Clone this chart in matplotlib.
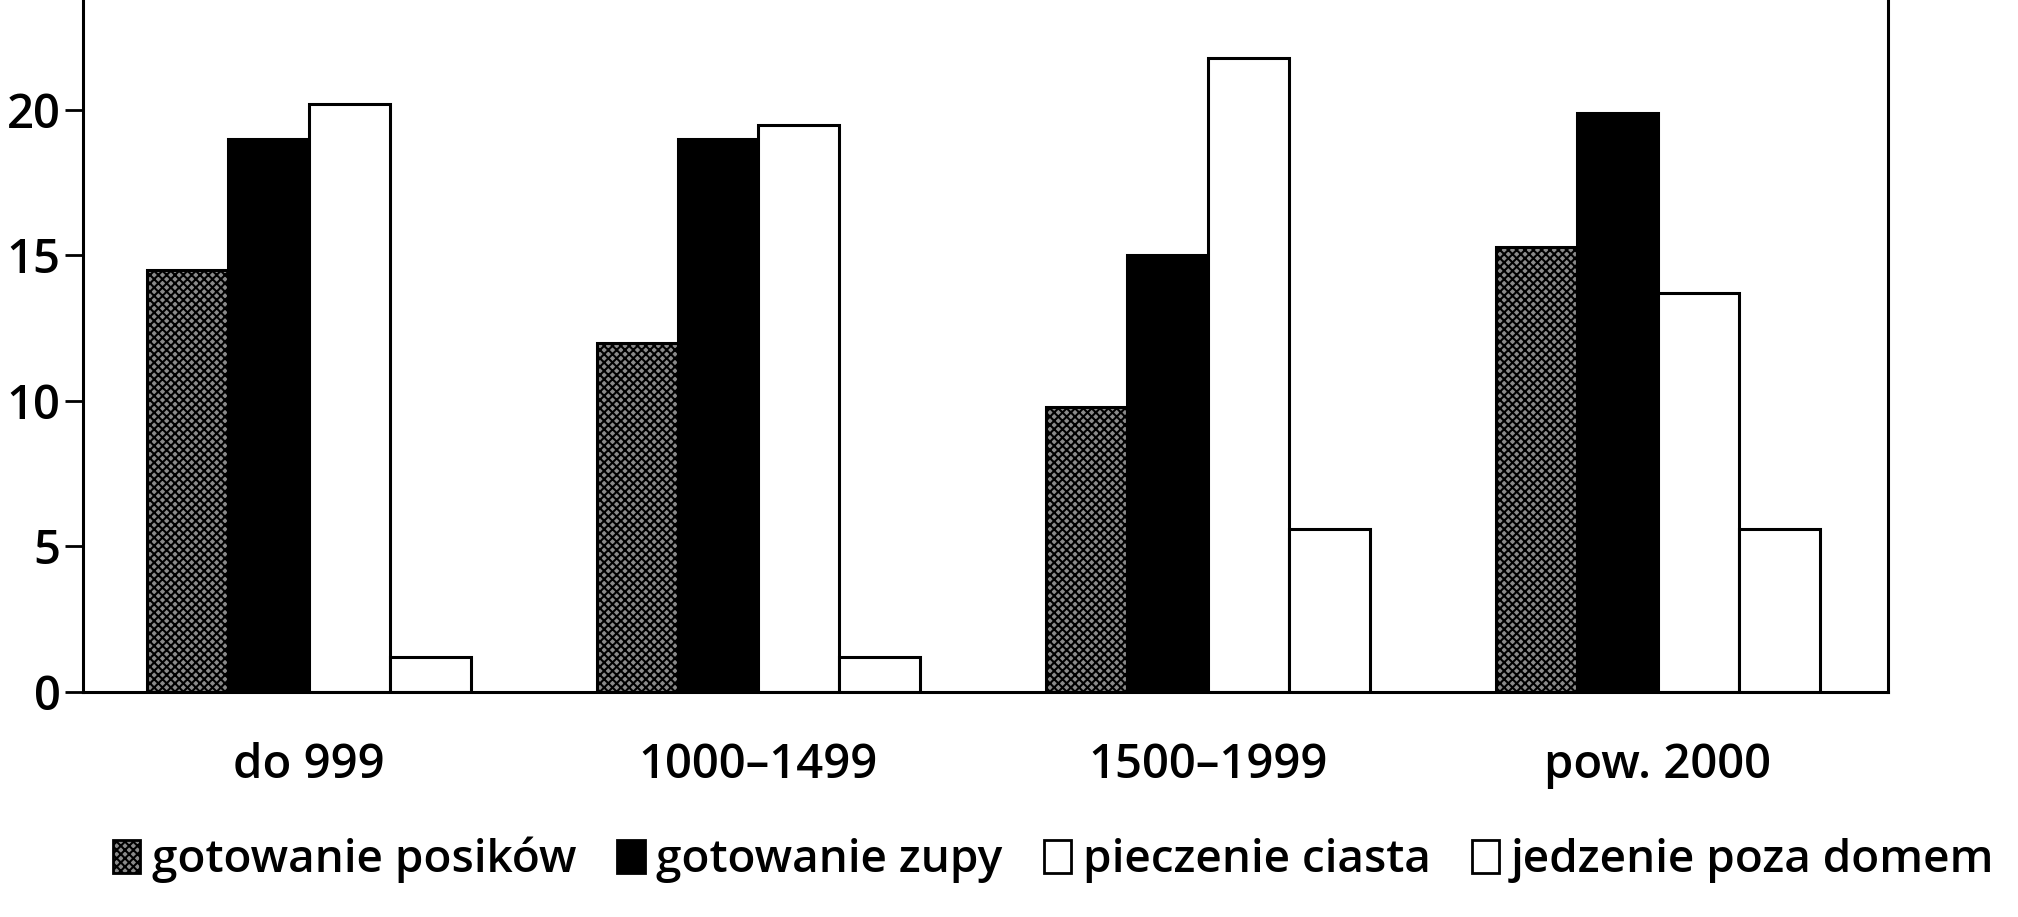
import matplotlib
matplotlib.use("Agg")
import matplotlib.pyplot as plt
import numpy as np
from matplotlib.patches import Patch

categories = ["do 999", "1000\u20131499", "1500\u20131999", "pow. 2000"]
series_names = ["gotowanie posików", "gotowanie zupy", "pieczenie ciasta", "jedzenie poza domem"]
gotowanie_posilkow = [14.5, 12.0, 9.8, 15.3]
gotowanie_zupy = [19.0, 19.0, 15.0, 19.9]
pieczenie_ciasta = [20.2, 19.5, 21.8, 13.7]
jedzenie_poza_domem = [1.2, 1.2, 5.6, 5.6]
yticks = [0, 5, 10, 15, 20]

plt.rcParams['font.family'] = ['Open Sans', 'DejaVu Sans']
plt.rcParams['hatch.linewidth'] = 1.5
plt.rcParams['hatch.color'] = 'black'

fig = plt.figure(figsize=(20.18, 9.17), dpi=100)
ax = fig.add_axes([0.041, 0.2454, 0.8945, 0.7546])

x = np.arange(len(categories))
w = 0.18
styles = [
    dict(facecolor='#8a8a8a', edgecolor='black', hatch='xxxx'),
    dict(facecolor='black', edgecolor='black'),
    dict(facecolor='white', edgecolor='black'),
    dict(facecolor='white', edgecolor='black'),
]
data = [gotowanie_posilkow, gotowanie_zupy, pieczenie_ciasta, jedzenie_poza_domem]
for i, (vals, st) in enumerate(zip(data, styles)):
    ax.bar(x + (i - 1.5) * w, vals, width=w, linewidth=2.2, **st)

ax.set_xlim(-0.503, 3.512)
ax.set_ylim(0, 23.78)
ax.set_yticks(yticks)
ax.set_yticklabels([str(t) for t in yticks], fontsize=34, fontweight='semibold')
ax.set_xticks(x)
ax.set_xticklabels(categories, fontsize=34, fontweight='semibold')
ax.tick_params(axis='y', direction='out', length=13, width=2, pad=3)
ax.tick_params(axis='x', length=0, pad=36)
ax.spines['top'].set_visible(False)
for s in ['left', 'right', 'bottom']:
    ax.spines[s].set_linewidth(2.2)

handles = [Patch(linewidth=2, **st) for st in styles]
fig.legend(handles, series_names, loc='center', bbox_to_anchor=(0.522, 0.062), ncol=4,
           frameon=False, handlelength=0.6, handleheight=0.75,
           handletextpad=0.25, columnspacing=0.9, prop={'weight': 'semibold', 'size': 33})

fig.savefig("out.png", dpi=100)
